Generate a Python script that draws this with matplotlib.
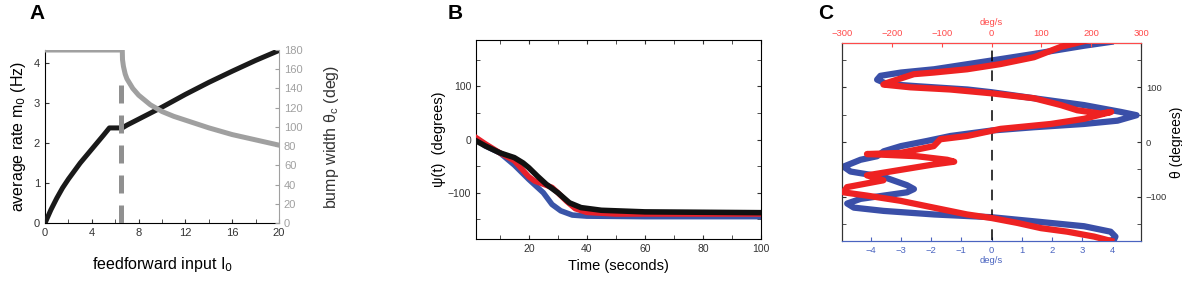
import matplotlib.pyplot as plt
import numpy as np

plt.rcParams['font.family'] = ['Liberation Sans', 'DejaVu Sans']

# ---- panel A data ----
I_m = [0, 0.5, 1, 1.5, 2, 3, 4, 5, 5.5, 6.6, 7, 8, 10, 12, 14, 16, 18, 20]
m0 = [0, 0.33, 0.62, 0.88, 1.1, 1.5, 1.85, 2.2, 2.38, 2.38, 2.45, 2.6, 2.9, 3.22, 3.52, 3.8, 4.07, 4.32]
I_w = [0, 6.6, 6.62, 6.7, 6.85, 7, 7.5, 8, 9, 10, 11, 12, 14, 16, 18, 20]
width = [180, 180, 170, 163, 155, 150, 140, 133, 123, 116, 111, 107, 99, 92, 86.5, 81]
I_crit = 6.5
width_crit = 150

# ---- panel B data ----
t_black = [2, 5, 10, 15, 18, 20, 23, 26, 30, 34, 38, 45, 60, 100]
psi_black = [-3, -12, -25, -34, -44, -53, -69, -84, -100, -119, -128, -133, -136, -137.5]
t_red = [2, 5, 10, 15, 20, 22, 25, 28, 30, 33, 36, 40, 50, 100]
psi_red = [3, -8, -25, -40, -70, -78, -84, -90, -100, -116, -130, -137, -140, -140]
t_blue = [2, 5, 10, 15, 20, 25, 28, 31, 35, 40, 60, 100]
psi_blue = [0, -12, -25, -48, -75, -100, -122, -134, -142, -144, -145, -145]

# ---- panel C data ----
blue_vel = [3.94, 3.06, 1.4, 0, -1.9, -3.0, -3.68, -3.79, -3.46, -2.46, -0.8, 0, 1.4, 3.06, 4.28,
            4.8, 4.17, 3.06, 1.4, 0, -1.36, -2.13, -3.0, -3.57, -3.79, -4.34, -4.9, -4.67, -3.57,
            -2.8, -2.57, -2.8, -3.57, -4.34, -4.78, -4.56, -3.57, -1.9, 0, 1.4, 3.06, 3.94, 4.1,
            4.05, 3.94]
blue_theta = [183, 176, 161, 149, 133, 127, 121, 114, 106, 102, 96, 91, 80, 67.5, 55,
              49, 39, 33, 27, 21, 11, 2, -7.5, -17, -26, -32.5, -45, -54, -64,
              -79, -86, -92, -98, -104, -112.5, -120, -126, -132.5, -137.5, -145, -154, -164, -173,
              -179, -180]
red_vel = [193, 139, 85, 18, -49, -116, -156, -210, -217, -163, -83, 0, 85, 139, 172, 219,
           240, 186, 119, 18, -49, -103, -116, -183, -250, -150, -89, -75, -116, -183,
           -250, -217, -290, -297, -250, -183, -116, -49, 0, 52, 99, 152, 206, 240]
red_theta = [186, 174, 155, 142.5, 133, 127, 124, 108, 105, 100, 96, 89, 80, 67.5, 58, 52,
             55, 42.5, 33, 24, 11, 5, -7.5, -20, -22, -26, -32.5, -36, -41, -51,
             -61, -70, -82.5, -92, -98, -107.5, -120, -132.5, -139, -148, -157.5, -164, -173, -181]

fig = plt.figure(figsize=(11.82, 2.85), dpi=100)

# =================== A ===================
axA = fig.add_axes([0.0381, 0.2175, 0.198, 0.607])
axA.plot(I_m, m0, color='#1a1a1a', lw=3.6, solid_capstyle='round', zorder=3)
axA.set_xlim(0, 20)
axA.set_ylim(0, 4.33)
axA.set_xticks(np.arange(0, 21, 4))
axA.set_xticks(np.arange(0, 21, 2), minor=True)
axA.set_yticks([0, 1, 2, 3, 4])
axA.tick_params(which='both', direction='in', length=3, labelsize=8, colors='#333333')
axA.spines['top'].set_visible(False)
axA.spines['right'].set_visible(False)
axA.set_xlabel('feedforward input I$_0$', fontsize=11.5, labelpad=12)
axA.set_ylabel('average rate m$_0$ (Hz)', fontsize=11.5, labelpad=4)

axA2 = axA.twinx()
axA2.plot(I_w, width, color='#a0a0a0', lw=3.6, zorder=2)
axA2.plot([I_crit, I_crit], [0, width_crit], color='#909090', lw=3.6,
          dashes=(3.6, 2.4), zorder=1)
axA2.set_ylim(0, 180)
axA2.set_yticks(np.arange(0, 181, 20))
axA2.tick_params(direction='in', length=3, labelsize=8, colors='#a0a0a0')
axA2.spines['top'].set_visible(False)
axA2.spines['left'].set_visible(False)
axA2.spines['bottom'].set_visible(False)
axA2.spines['right'].set_color('#a0a0a0')
axA2.set_ylabel(r'bump width θ$_\mathregular{c}$ (deg)', fontsize=11.5, color='#333333',
                rotation=90, labelpad=14)
fig.text(0.025, 0.953, 'A', fontsize=15, fontweight='bold', va='center')

# =================== B ===================
axB = fig.add_axes([0.4027, 0.1614, 0.2411, 0.6982])
axB.plot(t_blue, psi_blue, color='#3a55a8', lw=4, zorder=2)
axB.plot(t_red, psi_red, color='#e8202a', lw=4, zorder=3)
axB.plot(t_black, psi_black, color='#111111', lw=4, zorder=4)
axB.set_xlim(1.8, 100)
axB.set_ylim(-187, 187)
axB.set_xticks(np.arange(20, 101, 20))
axB.set_xticks(np.arange(10, 101, 10), minor=True)
axB.set_yticks([-100, 0, 100])
axB.set_yticks(np.arange(-150, 151, 50), minor=True)
axB.tick_params(which='both', direction='in', length=3, labelsize=7.5,
                top=True, right=True, colors='#333333')
axB.set_xlabel('Time (seconds)', fontsize=10.5, labelpad=4)
axB.set_ylabel('ψ(t)  (degrees)', fontsize=10.5, labelpad=1)
fig.text(0.379, 0.953, 'B', fontsize=15, fontweight='bold', va='center')

# =================== C ===================
axC = fig.add_axes([0.7124, 0.1544, 0.2530, 0.6947])
axC.plot(blue_vel, blue_theta, color='#3a4fa8', lw=4.5, zorder=2)
axC.plot([0, 0], [-180, 180], color='black', lw=1.1, dashes=(7, 6), zorder=5)
axC.set_xlim(-4.95, 4.95)
axC.set_ylim(-181, 181)
axC.set_xticks(np.arange(-4, 5, 1))
axC.set_yticks([-100, 0, 100])
axC.set_yticks(np.arange(-150, 151, 50), minor=True)
axC.tick_params(axis='x', direction='in', length=3, labelsize=6.8,
                colors='#4a64c0')
axC.tick_params(axis='y', which='both', direction='in', length=3, labelsize=6.8,
                left=True, right=True, labelleft=False, labelright=True, colors='#333333')
axC.spines['bottom'].set_color('#4a64c0')
axC.spines['left'].set_color('#333333')
axC.spines['right'].set_color('#333333')
axC.set_xlabel('deg/s', fontsize=6.8, color='#4a64c0', labelpad=1)
axC.yaxis.set_label_position('right')
axC.set_ylabel('θ (degrees)', fontsize=10, labelpad=2)

axC2 = axC.twiny()
axC2.plot(red_vel, red_theta, color='#ee2222', lw=4.5, zorder=3)
axC2.set_xlim(-300, 300)
axC2.set_xticks(np.arange(-300, 301, 100))
axC2.tick_params(axis='x', direction='in', length=3, labelsize=6.8, colors='#ff4a4a')
axC2.spines['top'].set_color('#ff4a4a')
axC2.spines['bottom'].set_color('#4a64c0')
axC2.spines['left'].set_color('#333333')
axC2.spines['right'].set_color('#333333')
axC2.set_xlabel('deg/s', fontsize=6.8, color='#ff4a4a', labelpad=3)
fig.text(0.692, 0.953, 'C', fontsize=15, fontweight='bold', va='center')

fig.savefig('out.png', dpi=100)
